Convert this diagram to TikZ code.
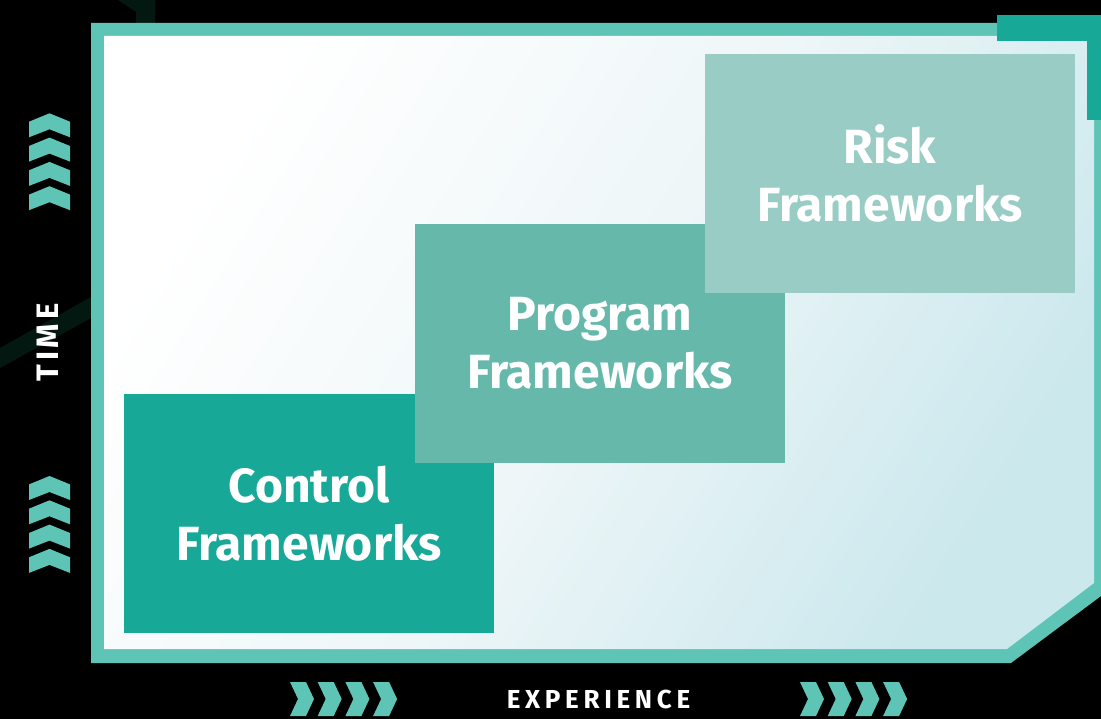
\documentclass[tikz,border=0pt]{standalone}
\usepackage{fontspec}
\setmainfont{Fira Sans}
\newfontfamily\axisfont[LetterSpace=18]{Fira Sans}
\newfontfamily\timefont[LetterSpace=12]{Fira Sans}
\definecolor{frameteal}{RGB}{94,196,181}
\definecolor{accentteal}{RGB}{23,168,152}
\definecolor{ctrlc}{RGB}{23,168,152}
\definecolor{progc}{RGB}{102,184,171}
\definecolor{riskc}{RGB}{153,204,196}
\definecolor{lightcyan}{RGB}{203,232,237}
\definecolor{midcyan}{RGB}{238,246,248}
\definecolor{darkband}{RGB}{4,24,18}
\tikzset{
  fwbox/.style={inner sep=0pt, minimum width=370pt, minimum height=239pt,
    text=white, align=center, font=\fontsize{48}{58}\selectfont\bfseries},
  chev/.style={fill=frameteal},
  axislabel/.style={text=white, inner sep=0pt},
}
\begin{document}
\begin{tikzpicture}[x=1pt,y=-1pt]
\useasboundingbox (0,0) rectangle (1101,719);
\fill[black] (0,0) rectangle (1101,719);
% faint background bands
\fill[darkband] (118,0) -- (136,12) -- (136,23) -- (155,23) -- (155,0) -- cycle;
\fill[darkband] (0,348) -- (91,297) -- (91,318) -- (0,368) -- cycle;
% frame
\fill[frameteal] (91,23) -- (1101,23) -- (1101,596) -- (1011,663) -- (91,663) -- cycle;
\shade[top color=white, bottom color=lightcyan, middle color=midcyan, shading angle=58]
  (104,36) -- (1094,36) -- (1094,583) -- (1007,649) -- (104,649) -- cycle;
% top-right accent
\fill[accentteal] (997,15) rectangle (1101,41);
\fill[accentteal] (1087,15) rectangle (1101,120.5);
% boxes
\node[fwbox, fill=ctrlc] (control) at (309,513.5) {Control\\Frameworks};
\node[fwbox, fill=progc] (program) at (600,343.5) {Program\\Frameworks};
\node[fwbox, fill=riskc] (risk) at (890,173.5) {Risk\\Frameworks};
% up chevrons
\foreach \ay in {113.3,137.6,161.9,186.2,476,500.3,524.6,548.9}{
  \fill[chev] (49.5,\ay) -- (70,\ay+8.4) -- (70,\ay+24) -- (49.5,\ay+16) -- (29,\ay+24) -- (29,\ay+8.4) -- cycle;
}
% right chevrons
\foreach \bx in {290,317.7,345.4,373.1,800,827.7,855.4,883.1}{
  \fill[chev] (\bx,682) -- (\bx+16,682) -- (\bx+24,699) -- (\bx+16,716) -- (\bx,716) -- (\bx+8,699) -- cycle;
}
% axis labels
\node[axislabel, rotate=90, font=\timefont\fontsize{31}{31}\selectfont\bfseries] (time) at (48,342.5) {TIME};
\node[axislabel, font=\axisfont\fontsize{26}{26}\selectfont\bfseries] (exp) at (598.5,699) {EXPERIENCE};
\end{tikzpicture}
\end{document}
